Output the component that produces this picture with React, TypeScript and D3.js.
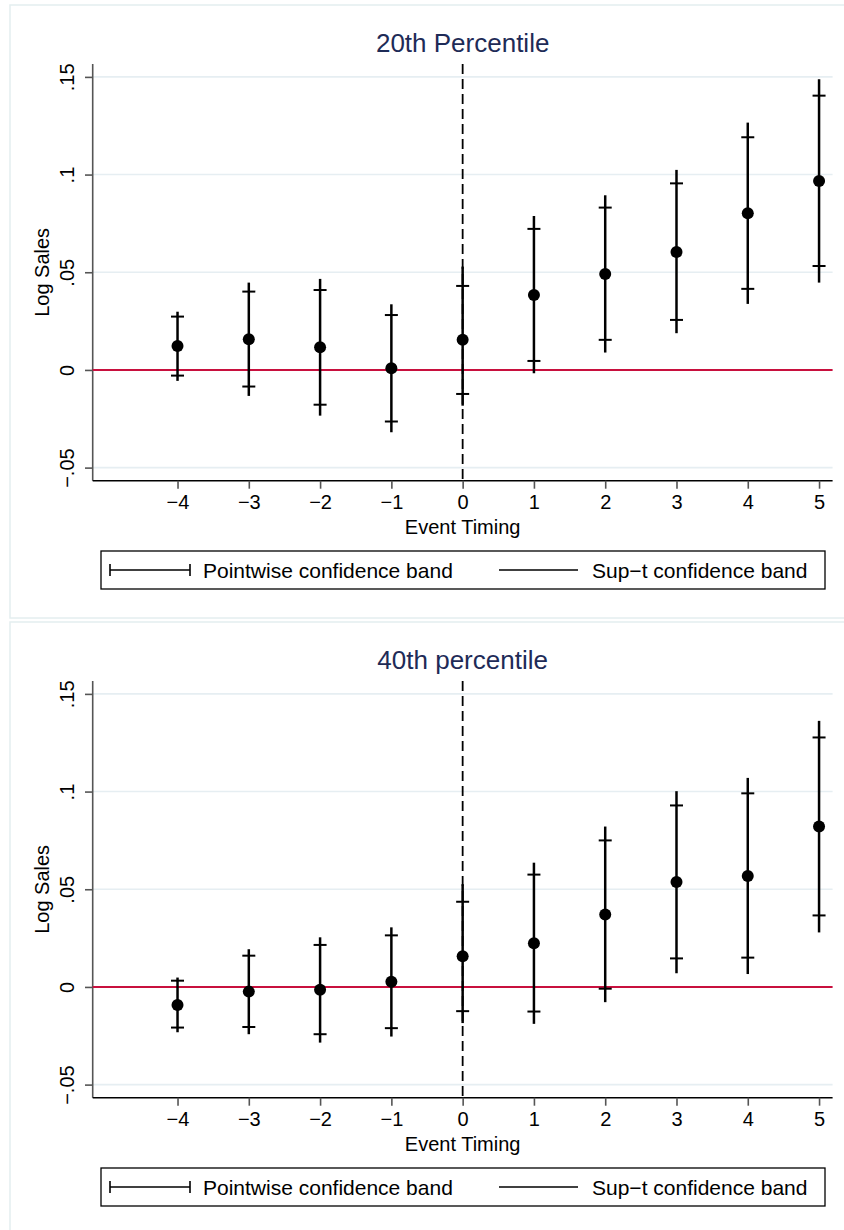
import { useEffect, useRef } from 'react';
import * as d3 from 'd3';

const timing = [-4, -3, -2, -1, 0, 1, 2, 3, 4, 5];
const yTicks = [-0.05, 0, 0.05, 0.1, 0.15];
const yTickLabels = ['\u2212.05', '0', '.05', '.1', '.15'];

// 20th percentile
const est20 = [0.0123, 0.0157, 0.0116, 0.0009, 0.0154, 0.0384, 0.0491, 0.0604, 0.0802, 0.0967];
const pwLo20 = [-0.0029, -0.0085, -0.0178, -0.0264, -0.0123, 0.0046, 0.0154, 0.0256, 0.0415, 0.0532];
const pwHi20 = [0.0273, 0.0401, 0.0409, 0.0281, 0.043, 0.0722, 0.0831, 0.0955, 0.1191, 0.1404];
const supLo20 = [-0.0056, -0.0133, -0.0234, -0.0319, -0.0183, -0.0017, 0.0089, 0.0188, 0.0338, 0.0447];
const supHi20 = [0.0298, 0.0447, 0.0466, 0.0336, 0.0529, 0.0788, 0.0894, 0.1024, 0.1266, 0.1488];

// 40th percentile
const est40 = [-0.0092, -0.0024, -0.0014, 0.0026, 0.0157, 0.0224, 0.0371, 0.0537, 0.0568, 0.0821];
const pwLo40 = [-0.0208, -0.0205, -0.0242, -0.0211, -0.0124, -0.0126, -0.0009, 0.0146, 0.015, 0.0366];
const pwHi40 = [0.0032, 0.016, 0.0215, 0.0264, 0.0436, 0.0575, 0.075, 0.0929, 0.0991, 0.1277];
const supLo40 = [-0.0232, -0.0242, -0.0285, -0.0254, -0.0185, -0.0189, -0.0078, 0.007, 0.0066, 0.0279];
const supHi40 = [0.0048, 0.0193, 0.0254, 0.0305, 0.0526, 0.0636, 0.0821, 0.1002, 0.107, 0.1362];

const panels = [
  { title: '20th Percentile', est: est20, pwLo: pwLo20, pwHi: pwHi20, supLo: supLo20, supHi: supHi20 },
  { title: '40th percentile', est: est40, pwLo: pwLo40, pwHi: pwHi40, supLo: supLo40, supHi: supHi40 },
];

const FONT = '"Liberation Sans", Arial, Helvetica, sans-serif';

const App = () => {
  const svgRef = useRef<SVGSVGElement>(null);

  useEffect(() => {
    const svg = d3.select(svgRef.current);
    svg.selectAll('*').remove();

    const W = 844;
    const H = 1230;
    svg.attr('width', W).attr('height', H);

    const panelH = 617;
    const plot = { left: 92.7, right: 832.6, top: 64, bottom: 480.7 };

    const x = d3.scaleLinear().domain([-5.19, 5.19]).range([plot.left, plot.right]);
    const y = d3.scaleLinear().domain([-0.0567, 0.1566]).range([plot.bottom, plot.top]);

    panels.forEach((p, pi) => {
      const g = svg.append('g').attr('transform', `translate(0,${pi * panelH})`);

      // panel frame
      g.append('rect')
        .attr('x', 10).attr('y', 5)
        .attr('width', 850).attr('height', 613)
        .attr('fill', 'white')
        .attr('stroke', '#e4eeef')
        .attr('stroke-width', 1.5);

      // title
      g.append('text')
        .attr('x', (plot.left + plot.right) / 2)
        .attr('y', 51.5)
        .attr('text-anchor', 'middle')
        .attr('font-family', FONT)
        .attr('font-size', 26)
        .attr('fill', '#1e2b57')
        .text(p.title);

      // grid lines
      g.append('g')
        .selectAll('line')
        .data(yTicks.filter(t => t !== 0))
        .enter().append('line')
        .attr('x1', plot.left).attr('x2', plot.right)
        .attr('y1', d => y(d)).attr('y2', d => y(d))
        .attr('stroke', '#e6eef2')
        .attr('stroke-width', 1.6);

      // y axis
      const yAxis = g.append('g')
        .attr('transform', `translate(${plot.left},0)`)
        .call(d3.axisLeft(y)
          .tickValues(yTicks)
          .tickSize(7.7)
          .tickSizeOuter(0)
          .tickFormat((d, i) => yTickLabels[i]));
      yAxis.select('.domain')
        .attr('d', `M0,${plot.top}V${plot.bottom}`)
        .attr('stroke', '#555').attr('stroke-width', 1.6);
      yAxis.selectAll('.tick line').attr('stroke', '#555').attr('stroke-width', 1.6);
      yAxis.selectAll('.tick text')
        .attr('x', null).attr('dy', null)
        .attr('transform', 'translate(-19,0) rotate(-90)')
        .attr('text-anchor', 'middle')
        .attr('font-family', FONT)
        .attr('font-size', 20)
        .attr('fill', 'black');

      // y label
      g.append('text')
        .attr('transform', `translate(49,${(plot.top + plot.bottom) / 2}) rotate(-90)`)
        .attr('text-anchor', 'middle')
        .attr('font-family', FONT)
        .attr('font-size', 20)
        .text('Log Sales');

      // x axis
      const xAxis = g.append('g')
        .attr('transform', `translate(0,${plot.bottom})`)
        .call(d3.axisBottom(x)
          .tickValues(timing)
          .tickSize(8)
          .tickPadding(6)
          .tickSizeOuter(0));
      xAxis.select('.domain')
        .attr('d', `M${plot.left},0H${plot.right}`)
        .attr('stroke', 'black').attr('stroke-width', 1.6);
      xAxis.selectAll('.tick line').attr('stroke', '#555').attr('stroke-width', 1.6);
      xAxis.selectAll('.tick text')
        .attr('font-family', FONT)
        .attr('font-size', 20)
        .attr('fill', 'black');

      g.append('text')
        .attr('x', (plot.left + plot.right) / 2)
        .attr('y', 534)
        .attr('text-anchor', 'middle')
        .attr('font-family', FONT)
        .attr('font-size', 20)
        .text('Event Timing');

      // zero line
      g.append('line')
        .attr('x1', plot.left).attr('x2', plot.right)
        .attr('y1', y(0)).attr('y2', y(0))
        .attr('stroke', '#c8103e')
        .attr('stroke-width', 2);

      // event line
      g.append('line')
        .attr('x1', x(0)).attr('x2', x(0))
        .attr('y1', plot.top).attr('y2', plot.bottom)
        .attr('stroke', 'black')
        .attr('stroke-width', 1.8)
        .attr('stroke-dasharray', '10,5');

      const rows = timing.map((t, i) => ({
        t, est: p.est[i], pwLo: p.pwLo[i], pwHi: p.pwHi[i], supLo: p.supLo[i], supHi: p.supHi[i],
      }));

      // sup-t bands
      g.append('g')
        .selectAll('line')
        .data(rows)
        .enter().append('line')
        .attr('x1', d => x(d.t)).attr('x2', d => x(d.t))
        .attr('y1', d => y(d.supLo)).attr('y2', d => y(d.supHi))
        .attr('stroke', 'black')
        .attr('stroke-width', 2.5);

      // pointwise caps
      const capW = 6.5;
      const caps = g.append('g');
      rows.forEach(d => {
        [d.pwLo, d.pwHi].forEach(v => {
          caps.append('line')
            .attr('x1', x(d.t) - capW).attr('x2', x(d.t) + capW)
            .attr('y1', y(v)).attr('y2', y(v))
            .attr('stroke', 'black')
            .attr('stroke-width', 2);
        });
      });

      // estimates
      g.append('g')
        .selectAll('circle')
        .data(rows)
        .enter().append('circle')
        .attr('cx', d => x(d.t))
        .attr('cy', d => y(d.est))
        .attr('r', 6)
        .attr('fill', 'black');

      // legend
      const lg = g.append('g');
      lg.append('rect')
        .attr('x', 101).attr('y', 551)
        .attr('width', 724).attr('height', 38)
        .attr('fill', 'white')
        .attr('stroke', 'black')
        .attr('stroke-width', 1.3);
      const ly = 570;
      lg.append('line')
        .attr('x1', 110).attr('x2', 190)
        .attr('y1', ly).attr('y2', ly)
        .attr('stroke', 'black').attr('stroke-width', 1.6);
      [110, 190].forEach(cx => {
        lg.append('line')
          .attr('x1', cx).attr('x2', cx)
          .attr('y1', ly - 6).attr('y2', ly + 6)
          .attr('stroke', 'black').attr('stroke-width', 1.6);
      });
      lg.append('text')
        .attr('x', 203).attr('y', 578)
        .attr('font-family', FONT)
        .attr('font-size', 21)
        .text('Pointwise confidence band');
      lg.append('line')
        .attr('x1', 499).attr('x2', 578)
        .attr('y1', ly).attr('y2', ly)
        .attr('stroke', 'black').attr('stroke-width', 1.6);
      lg.append('text')
        .attr('x', 592).attr('y', 578)
        .attr('font-family', FONT)
        .attr('font-size', 21)
        .text('Sup\u2212t confidence band');
    });
  }, []);

  return (
    <div style={{ position: 'absolute', left: 0, top: 0 }}>
      <svg ref={svgRef}></svg>
    </div>
  );
};

export default App;
